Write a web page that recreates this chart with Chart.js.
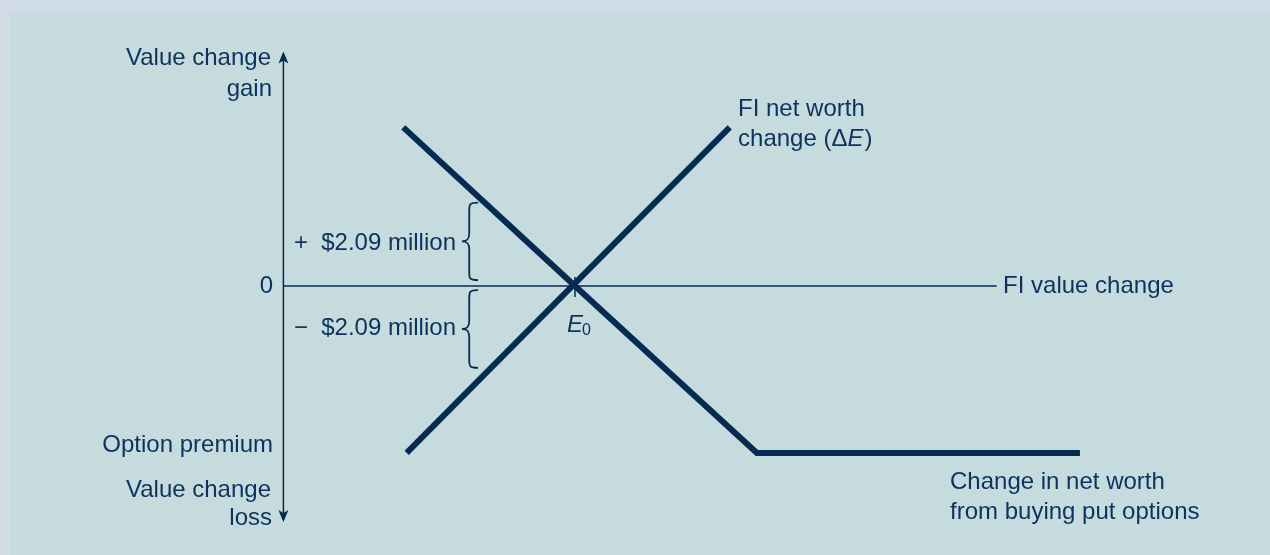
<!DOCTYPE html>
<html>
<head>
<meta charset="utf-8">
<script src="https://cdn.jsdelivr.net/npm/chart.js@4.4.1/dist/chart.umd.min.js"></script>
<style>
  html, body { margin: 0; padding: 0; background: #c5dbdd; overflow: hidden; }
  #wrap { position: absolute; left: 0; top: 0; width: 1270px; height: 555px; }
</style>
</head>
<body>
<div id="wrap"><canvas id="chart" width="1270" height="555"></canvas></div>
<script>
// valores en unidades del gráfico (E0 = origen, prima de la opción = -1)
const putX = [-1.01, 0, 1.07, 2.97];
const putY = [0.95, 0, -1, -1];
const netWorthX = [-0.99, 0.91];
const netWorthY = [-1, 0.95];

const premium = -1;
const gain = 0.5;   // + $2.09 million
const loss = -0.49; // - $2.09 million

const LINE = '#062a52';
const TEXT = '#0c325e';
const OUTER = '#d2dce6';
const PANEL = '#c5dbdd';
const FONT = '24px "Liberation Sans", Arial, sans-serif';
const FONT_IT = 'italic 24px "Liberation Sans", Arial, sans-serif';

function toPoints(xs, ys) {
    return xs.map((x, i) => ({ x, y: ys[i] }));
}

// dibuja una llave "{" vertical
function brace(ctx, xl, xm, xr, top, bottom) {
    const mid = (top + bottom) / 2;
    const r = 8;
    ctx.beginPath();
    ctx.moveTo(xr, top);
    ctx.bezierCurveTo(xm, top, xm, top + 2, xm, top + r);
    ctx.lineTo(xm, mid - r);
    ctx.bezierCurveTo(xm, mid - 2, xm - 2, mid, xl, mid);
    ctx.bezierCurveTo(xm - 2, mid, xm, mid + 2, xm, mid + r);
    ctx.lineTo(xm, bottom - r);
    ctx.bezierCurveTo(xm, bottom - 2, xm, bottom, xr, bottom);
    ctx.stroke();
}

function arrowHead(ctx, x, y, dir) {
    // dir = -1 hacia arriba, 1 hacia abajo
    ctx.beginPath();
    ctx.moveTo(x, y);
    ctx.lineTo(x - 5, y - dir * 12);
    ctx.lineTo(x, y - dir * 9);
    ctx.lineTo(x + 5, y - dir * 12);
    ctx.closePath();
    ctx.fill();
}

const decorations = {
    id: 'decorations',
    beforeDraw(chart) {
        // fondo: marco claro arriba e izquierda, panel azul verdoso
        const ctx = chart.ctx;
        ctx.save();
        ctx.fillStyle = OUTER;
        ctx.fillRect(0, 0, chart.width, chart.height);
        ctx.fillStyle = PANEL;
        ctx.fillRect(11, 13, chart.width - 11, chart.height - 13);
        ctx.restore();
    },
    beforeDatasetsDraw(chart) {
        const ctx = chart.ctx;
        const sx = chart.scales.x, sy = chart.scales.y;
        const px = v => sx.getPixelForValue(v);
        const py = v => sy.getPixelForValue(v);
        const axisX = px(-1.715);

        ctx.save();
        ctx.strokeStyle = LINE;
        ctx.fillStyle = LINE;
        ctx.lineWidth = 1.5;

        // eje vertical
        ctx.beginPath();
        ctx.moveTo(axisX, py(1.39));
        ctx.lineTo(axisX, py(-1.4));
        ctx.stroke();
        arrowHead(ctx, axisX, py(1.405), -1);
        arrowHead(ctx, axisX, py(-1.413), 1);

        // eje horizontal
        ctx.beginPath();
        ctx.moveTo(axisX, py(0));
        ctx.lineTo(px(2.48), py(0));
        ctx.stroke();

        // marca en E0
        ctx.beginPath();
        ctx.moveTo(px(0), py(0) - 9);
        ctx.lineTo(px(0), py(0) + 11);
        ctx.stroke();

        // llaves
        ctx.lineWidth = 1.8;
        brace(ctx, px(-0.665), px(-0.622), px(-0.57), py(gain), py(0.035));
        brace(ctx, px(-0.665), px(-0.622), px(-0.57), py(-0.025), py(loss));
        ctx.restore();
    },
    afterDatasetsDraw(chart) {
        const ctx = chart.ctx;
        const sx = chart.scales.x, sy = chart.scales.y;
        const px = v => sx.getPixelForValue(v);
        const py = v => sy.getPixelForValue(v);

        ctx.save();
        ctx.fillStyle = TEXT;
        ctx.font = FONT;
        ctx.textBaseline = 'alphabetic';

        // etiquetas del eje vertical
        ctx.textAlign = 'right';
        ctx.fillText('Value change', px(-1.788), py(1.323));
        ctx.fillText('gain', px(-1.782), py(1.138));
        ctx.fillText('Option premium', px(-1.776), py(-0.994));
        ctx.fillText('Value change', px(-1.788), py(-1.263));
        ctx.fillText('loss', px(-1.782), py(-1.431));
        ctx.textBaseline = 'middle';
        ctx.fillText('0', px(-1.776), py(0));

        // llaves
        ctx.textBaseline = 'alphabetic';
        ctx.fillText('+  $2.09 million', px(-0.7), py(0.216));
        ctx.fillText('\u2212  $2.09 million', px(-0.7), py(-0.293));

        // eje horizontal
        ctx.textAlign = 'left';
        ctx.textBaseline = 'middle';
        ctx.fillText('FI value change', px(2.518), py(0));

        // curvas
        ctx.textBaseline = 'alphabetic';
        ctx.fillText('FI net worth', px(0.959), py(1.018));
        let x = px(0.959);
        const yb = py(0.838);
        ctx.fillText('change (\u0394', x, yb);
        x += ctx.measureText('change (\u0394').width;
        ctx.font = FONT_IT;
        ctx.fillText('E', x, yb);
        x += ctx.measureText('E').width + 1;
        ctx.font = FONT;
        ctx.fillText(')', x, yb);

        ctx.fillText('Change in net worth', px(2.206), py(-1.216));
        ctx.fillText('from buying put options', px(2.206), py(-1.395));

        // E0
        ctx.font = FONT_IT;
        const ex = px(-0.047), ey = py(-0.275);
        ctx.fillText('E', ex, ey);
        const ew = ctx.measureText('E').width;
        ctx.font = '16px "Liberation Sans", Arial, sans-serif';
        ctx.fillText('0', ex + ew - 1, ey + 3);
        ctx.restore();
    }
};

new Chart(document.getElementById('chart'), {
    type: 'scatter',
    data: {
        datasets: [
            {
                label: 'FI net worth change',
                data: toPoints(netWorthX, netWorthY),
                showLine: true,
                borderColor: LINE,
                borderWidth: 6,
                borderCapStyle: 'butt',
                pointRadius: 0,
                tension: 0
            },
            {
                label: 'Change in net worth from buying put options',
                data: toPoints(putX, putY),
                showLine: true,
                borderColor: LINE,
                borderWidth: 6,
                borderCapStyle: 'butt',
                borderJoinStyle: 'miter',
                pointRadius: 0,
                tension: 0
            }
        ]
    },
    options: {
        responsive: false,
        devicePixelRatio: 1,
        animation: false,
        layout: { padding: 0 },
        plugins: {
            legend: { display: false },
            tooltip: { enabled: false }
        },
        scales: {
            x: { type: 'linear', display: false, min: -3.382, max: 4.088 },
            y: { type: 'linear', display: false, min: -1.611, max: 1.713 }
        }
    },
    plugins: [decorations]
});
</script>
</body>
</html>
